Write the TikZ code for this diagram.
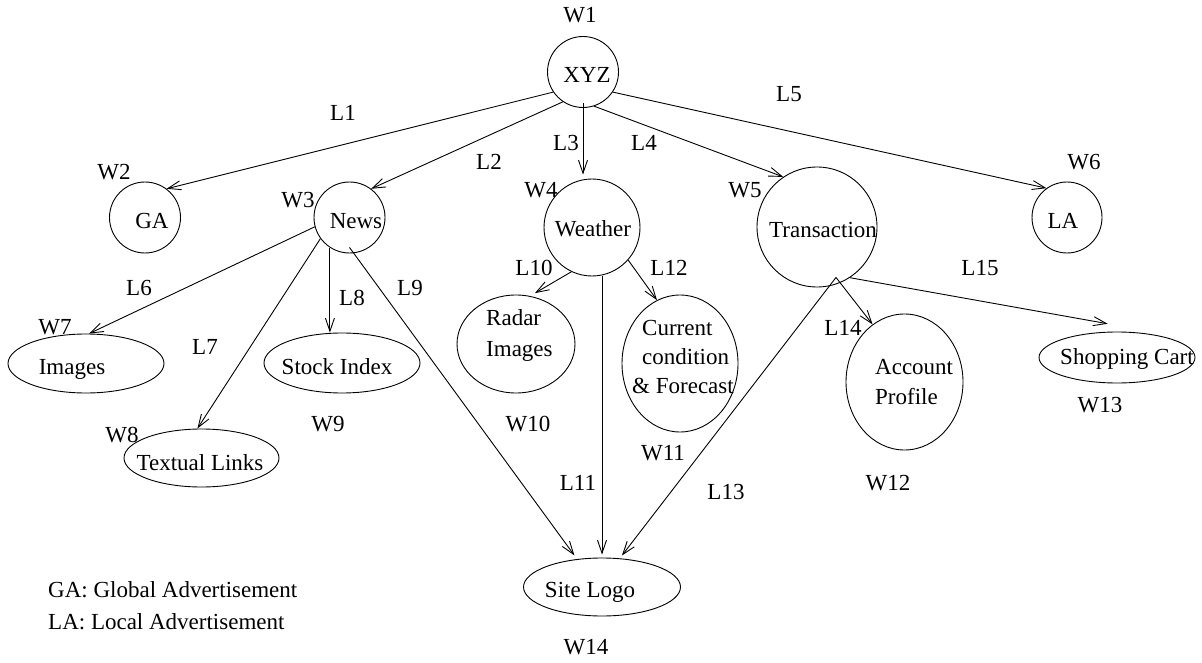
\documentclass[tikz,border=0pt]{standalone}
\usepackage{fontspec}
\setmainfont{Liberation Serif}
\usetikzlibrary{arrows.meta,shapes.geometric}
\begin{document}
\begin{tikzpicture}[x=1pt,y=-1pt,
  every node/.style={font=\fontsize{23}{28}\selectfont},
  txt/.style={inner sep=0pt, text height=15.2pt, text depth=0pt},
  ring/.style={draw, ellipse, inner sep=0pt, line width=0.9pt},
  link/.style={line width=0.9pt, -{Straight Barb[length=13pt,width=9pt]}}]
\useasboundingbox (0,0) rectangle (1202,663);

% pages (outlines)
\node[ring, minimum width=71pt,  minimum height=71pt]  (xyz)     at (583,72)      {};
\node[ring, minimum width=71pt,  minimum height=71pt]  (ga)      at (145,217.5)   {};
\node[ring, minimum width=71pt,  minimum height=71pt]  (news)    at (349.5,217.5) {};
\node[ring, minimum width=96pt,  minimum height=97pt]  (weather) at (592,227.5)   {};
\node[ring, minimum width=120pt, minimum height=120pt] (trans)   at (817,227)     {};
\node[ring, minimum width=70pt,  minimum height=71pt]  (la)      at (1067,217.5)  {};
\node[ring, minimum width=156pt, minimum height=59pt]  (img)     at (86,363.5)    {};
\node[ring, minimum width=156pt, minimum height=60pt]  (stock)   at (342,363)     {};
\node[ring, minimum width=155pt, minimum height=58pt]  (textual) at (201.5,458)   {};
\node[ring, minimum width=118pt, minimum height=98pt]  (radar)   at (516,344)     {};
\node[ring, minimum width=116pt, minimum height=137pt] (cur)     at (680,363.5)   {};
\node[ring, minimum width=117pt, minimum height=136pt] (acc)     at (904.5,382)   {};
\node[ring, minimum width=156pt, minimum height=51pt]  (shop)    at (1117,357.5)  {};
\node[ring, minimum width=157pt, minimum height=58pt]  (logo)    at (602,587)     {};

% page names
\node[txt] (xyzT)     at (587,75)  {XYZ};
\node[txt] (gaT)      at (152,221) {GA};
\node[txt] (newsT)    at (356,221) {News};
\node[txt] (weatherT) at (593,229) {Weather};
\node[txt] (transT)   at (823,230) {Transaction};
\node[txt] (laT)      at (1063,221) {LA};
\node[txt] (imgT)     at (72,367)  {Images};
\node[txt] (stockT)   at (337,367) {Stock Index};
\node[txt] (textualT) at (200,463) {Textual Links};
\node[txt, anchor=west] (radarT1) at (486,318) {Radar};
\node[txt, anchor=west] (radarT2) at (486,349) {Images};
\node[txt, anchor=west] (curT1)   at (642,328) {Current};
\node[txt, anchor=west] (curT2)   at (642,357) {condition};
\node[txt, anchor=west] (curT3)   at (632,386) {\& Forecast};
\node[txt, anchor=west] (accT1)   at (875,367) {Account};
\node[txt, anchor=west] (accT2)   at (875,397) {Profile};
\node[txt] (shopT)    at (1127,357) {Shopping Cart};
\node[txt] (logoT)    at (590,590) {Site Logo};

% page labels
\node[txt] (w1)  at (580,15)  {W1};
\node[txt] (w2)  at (114,172) {W2};
\node[txt] (w3)  at (298,200) {W3};
\node[txt] (w4)  at (541,190) {W4};
\node[txt] (w5)  at (745,190) {W5};
\node[txt] (w6)  at (1084,162) {W6};
\node[txt] (w7)  at (55,327)  {W7};
\node[txt] (w8)  at (122,435) {W8};
\node[txt] (w9)  at (328,424) {W9};
\node[txt] (w10) at (528,424) {W10};
\node[txt] (w11) at (663,453) {W11};
\node[txt] (w12) at (888,483) {W12};
\node[txt] (w13) at (1100,405) {W13};
\node[txt] (w14) at (586,647) {W14};

% link labels
\node[txt] (l1)  at (343,113) {L1};
\node[txt] (l2)  at (489,162) {L2};
\node[txt] (l3)  at (566,143) {L3};
\node[txt] (l4)  at (644,143) {L4};
\node[txt] (l5)  at (789,94)  {L5};
\node[txt] (l6)  at (139,288) {L6};
\node[txt] (l7)  at (205,347) {L7};
\node[txt] (l8)  at (352,298) {L8};
\node[txt] (l9)  at (410,288) {L9};
\node[txt] (l10) at (534,268) {L10};
\node[txt] (l11) at (578,483) {L11};
\node[txt] (l12) at (669,268) {L12};
\node[txt] (l13) at (726,492) {L13};
\node[txt] (l14) at (843,328) {L14};
\node[txt] (l15) at (980,268) {L15};

% legend
\node[txt, anchor=west] (legGA) at (48,590) {GA: Global Advertisement};
\node[txt, anchor=west] (legLA) at (48,622) {LA: Local Advertisement};

% links
\draw[link] (xyz.214) -- (ga.53);
\draw[link] (xyz.236) -- (news.53);
\draw[link] ([yshift=5pt]xyz.south) -- ([yshift=4pt]xyz.south |- weather.north);
\draw[link] (xyz.-72) -- (trans.124);
\draw[link] (xyz.-34) -- (la.125);
\draw[link] (news.195) -- (img.84);
\draw[link] (news.216) -- (textual.98);
\draw[link] (news.237) -- (news.237 |- stock.north);
\draw[link] ([yshift=6pt]news.south) -- ([yshift=4pt]logo.135);
\draw[link] (weather.245) -- ([yshift=4pt]radar.68);
\draw[link] (logo.north |- weather.south) -- ([yshift=3pt]logo.north);
\draw[link] (weather.-42) -- (cur.110);
\coordinate (apex) at ([xshift=19pt,yshift=10pt]trans.south);
\draw[link] (apex) -- ([yshift=3pt]logo.55);
\draw[link] (apex) -- (acc.119);
\draw[link] (trans.-57) -- ([yshift=8pt]shop.110);
\end{tikzpicture}
\end{document}
